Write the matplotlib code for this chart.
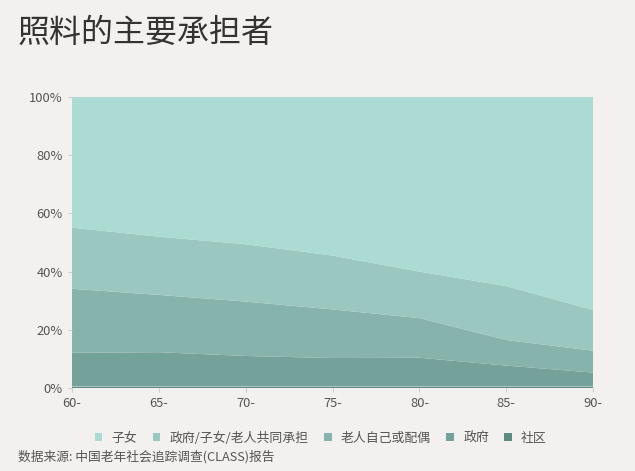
import numpy as np
import matplotlib.pyplot as plt
from matplotlib.patches import Patch

plt.rcParams['font.family'] = ['Noto Sans CJK SC', 'DejaVu Sans']

# age groups
ages = ['60-', '65-', '70-', '75-', '80-', '85-', '90-']

# share of care provider (%), stacked from bottom
community = [0.5, 0.5, 0.5, 0.5, 0.5, 0.5, 0.5]
government = [11.6, 11.8, 10.5, 9.8, 9.9, 7.2, 4.8]
self_spouse = [22.0, 19.7, 18.7, 16.7, 13.6, 8.8, 7.5]
shared = [21.0, 20.0, 19.7, 18.5, 16.0, 18.5, 14.0]
children = [44.9, 48.0, 50.6, 54.5, 60.0, 65.0, 73.2]

labels = ['子女', '政府/子女/老人共同承担', '老人自己或配偶', '政府', '社区']
colors = ['#acdbd4', '#9bc7c1', '#87b3ad', '#74a199', '#5e8a82']

bg = '#f3f1ef'
fig = plt.figure(figsize=(6.35, 4.71), dpi=100, facecolor=bg)
ax = fig.add_axes([0.1134, 0.1762, 0.8206, 0.6178])
ax.set_facecolor(bg)

x = np.arange(len(ages))
ax.stackplot(x, community, government, self_spouse, shared, children,
             colors=colors[::-1], linewidth=0)

ax.set_xlim(0, len(ages) - 1)
ax.set_ylim(0, 100)
ax.set_xticks(x)
ax.set_xticklabels(ages)
ax.set_yticks(range(0, 101, 20))
ax.set_yticklabels([f'{v}%' for v in range(0, 101, 20)])
ax.tick_params(colors='#cccccc', labelcolor='#555555', labelsize=9.3, length=3, width=0.8)
for s in ax.spines.values():
    s.set_visible(False)

fig.text(0.028, 0.93, '照料的主要承担者', fontsize=23, color='#333333',
         va='center', fontweight='light')

handles = [Patch(facecolor=c, edgecolor='none') for c in colors]
fig.legend(handles, labels, loc='center', bbox_to_anchor=(0.505, 0.07), ncol=5,
           frameon=False, fontsize=9.3, labelcolor='#555555',
           handlelength=0.6, handleheight=0.6, handletextpad=0.7, columnspacing=1.2)

fig.text(0.028, 0.03, '数据来源: 中国老年社会追踪调查(CLASS)报告', fontsize=9.2,
         color='#555555', va='center')

fig.savefig('out.png', dpi=100, facecolor=bg)
